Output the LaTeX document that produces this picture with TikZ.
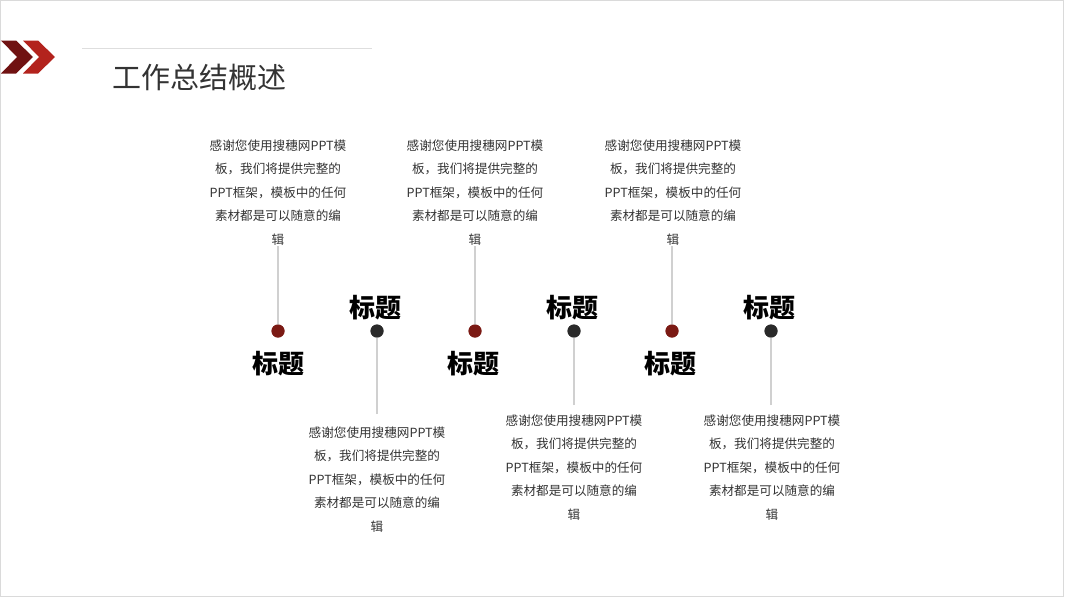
\documentclass[tikz,border=0pt]{standalone}
\usepackage{fontspec}
\setmainfont{Noto Sans CJK SC}
\newfontfamily\cjk{Noto Sans CJK SC}
\definecolor{darkred}{HTML}{701212}
\definecolor{midred}{HTML}{B3231D}
\definecolor{dotred}{HTML}{7B1A14}
\definecolor{dotdark}{HTML}{2A2A2A}
\definecolor{stemgray}{HTML}{D0D0D0}
\definecolor{textdark}{HTML}{333333}
\tikzset{
  desc/.style={align=center, inner sep=0pt, text=textdark, font=\cjk\fontsize{12.6}{23.5}\selectfont},
  lbl/.style={inner sep=0pt, text=black, font=\cjk\bfseries\fontsize{26}{28}\selectfont},
  reddot/.style={circle, fill=dotred, minimum size=13pt, inner sep=0pt},
  darkdot/.style={circle, fill=dotdark, minimum size=13pt, inner sep=0pt},
  stem/.style={draw=stemgray, line width=2pt}
}
\newcommand{\desctext}{感谢您使用搜穗网PPT模\\板，我们将提供完整的\\PPT框架，模板中的任何\\素材都是可以随意的编\\辑}
\begin{document}
\begin{tikzpicture}[x=1pt,y=-1pt]
\useasboundingbox (0,0) rectangle (1067,600);
\draw[stemgray!80, line width=1pt] (0.5,0.5) rectangle (1063.5,596.5);
% chevrons
\fill[darkred] (1,40.5) -- (16,40.5) -- (33,57) -- (16,73.5) -- (1,73.5) -- (17,57) -- cycle;
\fill[midred] (23,40.5) -- (38,40.5) -- (55,57) -- (38,73.5) -- (23,73.5) -- (39,57) -- cycle;
% title rule and title
\draw[stemgray!70, line width=0.8pt] (82,48) -- (372,48);
\node[anchor=west, inner sep=0pt, text=textdark, font=\cjk\fontsize{29}{32}\selectfont] (title) at (112,78) {工作总结概述};

% dots
\node[reddot]  (d1) at (278,331) {};
\node[darkdot] (d2) at (377,331) {};
\node[reddot]  (d3) at (475,331) {};
\node[darkdot] (d4) at (574,331) {};
\node[reddot]  (d5) at (672,331) {};
\node[darkdot] (d6) at (771,331) {};

% labels
\node[lbl] (l1) at (278,364) {标题};
\node[lbl] (l2) at (375,308) {标题};
\node[lbl] (l3) at (473,364) {标题};
\node[lbl] (l4) at (572,308) {标题};
\node[lbl] (l5) at (670,364) {标题};
\node[lbl] (l6) at (769,308) {标题};

% descriptions
\node[desc, anchor=north] (t1) at (278,139.5) {\desctext};
\node[desc, anchor=north] (t3) at (475,139.5) {\desctext};
\node[desc, anchor=north] (t5) at (673,139.5) {\desctext};
\node[desc, anchor=north] (t2) at (377,426.5) {\desctext};
\node[desc, anchor=north] (t4) at (574,414.5) {\desctext};
\node[desc, anchor=north] (t6) at (772,414.5) {\desctext};

% stems
\coordinate (s1) at (278,246);
\coordinate (s3) at (475,246);
\coordinate (s5) at (672,246);
\coordinate (s2) at (377,414);
\coordinate (s4) at (574,405);
\coordinate (s6) at (771,405);
\draw[stem] (s1) -- (d1.center);
\draw[stem] (s3) -- (d3.center);
\draw[stem] (s5) -- (d5.center);
\draw[stem] (s2) -- (d2.center);
\draw[stem] (s4) -- (d4.center);
\draw[stem] (s6) -- (d6.center);
% redraw dots on top
\fill[dotred] (d1) circle (6.5pt);
\fill[dotdark] (d2) circle (6.5pt);
\fill[dotred] (d3) circle (6.5pt);
\fill[dotdark] (d4) circle (6.5pt);
\fill[dotred] (d5) circle (6.5pt);
\fill[dotdark] (d6) circle (6.5pt);
\end{tikzpicture}
\end{document}
